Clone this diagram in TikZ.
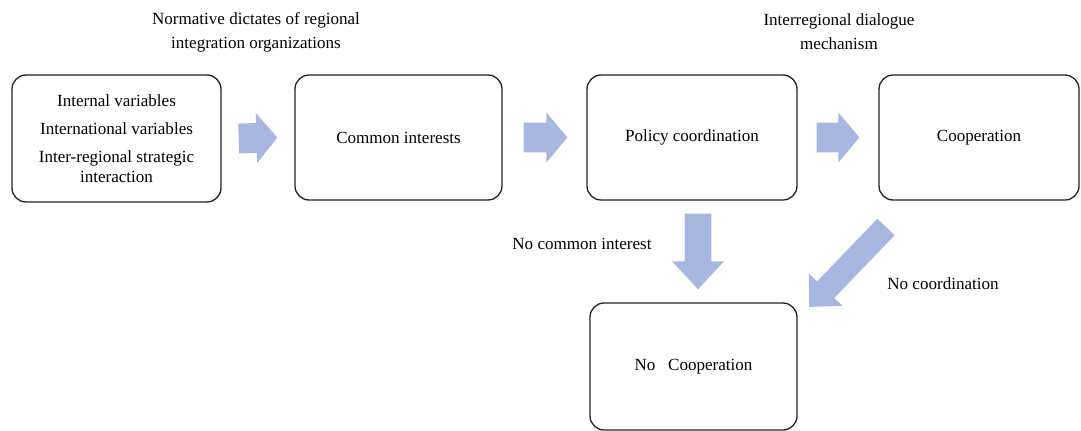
\documentclass[tikz,border=0pt]{standalone}
\usepackage{fontspec}
\setmainfont{Liberation Serif}
\definecolor{ArrowBlue}{RGB}{168, 182, 226}
\definecolor{BoxLine}{RGB}{35, 35, 35}
\usetikzlibrary{arrows.meta, positioning, calc}

\tikzset{
    stagebox/.style={draw=BoxLine, line width=0.75pt, rounded corners=8pt, inner sep=0pt, align=center, font=\fontsize{9.7}{11.5}\selectfont},
    % block arrow: shaft half width / head half width / head length
    flowarrow/.style args={#1/#2/#3}{fill=ArrowBlue, to path={
        let \p1=(\tikztostart), \p2=(\tikztotarget),
            \n1={atan2(\y2-\y1,\x2-\x1)}, \n2={veclen(\x2-\x1,\y2-\y1)} in
        [shift={(\p1)}, rotate=\n1]
        (0pt,-#1) -- ({\n2*1pt-#3},-#1) -- ({\n2*1pt-#3},-#2) -- (\n2*1pt,0pt)
        -- ({\n2*1pt-#3},#2) -- ({\n2*1pt-#3},#1) -- (0pt,#1) -- cycle}},
    labeltext/.style={align=center, font=\fontsize{9.7}{13.6}\selectfont}
}

\begin{document}
\begin{tikzpicture}[x=0.02cm, y=-0.02cm]
                \useasboundingbox (0,0) rectangle (1081,430);

                % Boxes
                \node[stagebox, minimum width=4.18cm, minimum height=2.54cm] (vars) at (116.5,138.5) {Internal variables\\[4.5pt] International variables\\[4.5pt] Inter-regional strategic\\ interaction};
                \node[stagebox, minimum width=4.14cm, minimum height=2.5cm] (common) at (398.5,137.5) {Common interests};
                \node[stagebox, minimum width=4.2cm, minimum height=2.5cm] (policy) at (692,137.5) {Policy coordination};
                \node[stagebox, minimum width=4.0cm, minimum height=2.5cm] (coop) at (979,137.5) {Cooperation};
                \node[stagebox, minimum width=4.14cm, minimum height=2.54cm] (nocoop) at (693.5,366.5) {No\hspace{0.5em} Cooperation};

                % Forward arrows
                \path[flowarrow=8.5pt/14.2pt/11.9pt] ([xshift=0.34cm]vars.east) to ([xshift=-0.34cm]common.west);
                \path[flowarrow=8.5pt/14.2pt/11.9pt] ([xshift=0.42cm]common.east) to ([xshift=-0.38cm]policy.west);
                \path[flowarrow=8.5pt/14.2pt/11.9pt] ([xshift=0.38cm]policy.east) to ([xshift=-0.38cm]coop.west);

                % Failure arrows
                \path[flowarrow=7.6pt/14.7pt/15.9pt] ([xshift=0.12cm, yshift=-0.26cm]policy.south) to ([xshift=0.09cm, yshift=0.26cm]nocoop.north);
                \coordinate (diagstart) at (886,227);
                \coordinate (diagend) at (809,307);
                \path[flowarrow=6.8pt/13.3pt/13.6pt] (diagstart) to (diagend);

                % Labels
                \node[labeltext] (normative) at (256,32) {Normative dictates of regional\\ integration organizations};
                \node[labeltext] (dialogue) at (839,32) {Interregional dialogue\\ mechanism};
                \node[labeltext] (nointerest) at (582,244) {No common interest};
                \node[labeltext] (nocoord) at (943,284) {No coordination};
\end{tikzpicture}
\end{document}
